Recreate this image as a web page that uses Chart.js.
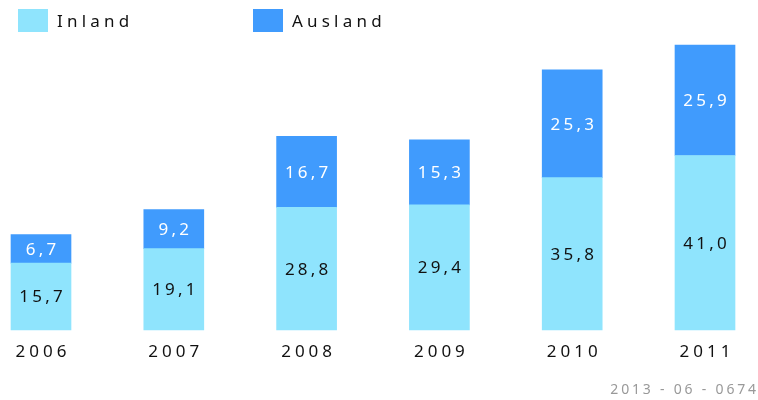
<!DOCTYPE html>
<html>
<head>
<meta charset="utf-8">
<script src="https://cdn.jsdelivr.net/npm/chart.js@4"></script>
<style>
  html, body { margin: 0; padding: 0; background: #fff; }
  #wrap { width: 758px; height: 400px; position: relative; }
</style>
</head>
<body>
<div id="wrap"><canvas id="chart" width="758" height="400"></canvas></div>
<script>
const years = ["2006", "2007", "2008", "2009", "2010", "2011"];
const inland = [15.7, 19.1, 28.8, 29.4, 35.8, 41.0];
const ausland = [6.7, 9.2, 16.7, 15.3, 25.3, 25.9];
const seriesNames = ["Inland", "Ausland"];
const footerText = "2013 - 06 - 0674";

const FONT = "'Noto Sans', 'DejaVu Sans', sans-serif";

function fmt(v) {
  return v.toFixed(1).replace(".", ",");
}

// draws text with letter spacing, centred or left aligned
function spacedText(ctx, text, x, y, spacing, align) {
  ctx.save();
  ctx.letterSpacing = spacing + "px";
  ctx.textAlign = "left";
  const w = ctx.measureText(text).width - spacing;
  let sx = x;
  if (align === "center") sx = x - w / 2;
  if (align === "right") sx = x - w;
  ctx.fillText(text, sx, y);
  ctx.restore();
}

const textPlugin = {
  id: "textPlugin",
  afterDatasetsDraw(chart) {
    const ctx = chart.ctx;
    const xs = chart.scales.x;
    ctx.save();
    ctx.textBaseline = "middle";

    // value labels inside the bars
    chart.data.datasets.forEach((ds, di) => {
      const meta = chart.getDatasetMeta(di);
      meta.data.forEach((bar, i) => {
        const top = bar.y, bottom = bar.base;
        ctx.font = "17px " + FONT;
        ctx.fillStyle = di === 0 ? "#111111" : "#ffffff";
        spacedText(ctx, fmt(ds.data[i]), bar.x, (top + bottom) / 2 + 1, 3.2, "center");
      });
    });

    // category labels
    ctx.font = "17px " + FONT;
    ctx.fillStyle = "#111111";
    years.forEach((y, i) => {
      spacedText(ctx, y, xs.getPixelForValue(i), 352, 4, "center");
    });

    // legend
    const legendX = [18, 253];
    chart.data.datasets.forEach((ds, di) => {
      ctx.fillStyle = ds.backgroundColor;
      ctx.fillRect(legendX[di], 9, 30, 23);
      ctx.fillStyle = "#111111";
      ctx.font = "17px " + FONT;
      spacedText(ctx, ds.label, legendX[di] + 39, 22, 4.2, "left");
    });

    // footer code
    ctx.font = "14px " + FONT;
    ctx.fillStyle = "#999999";
    spacedText(ctx, footerText, 756, 390, 2.8, "right");
    ctx.restore();
  }
};

new Chart(document.getElementById("chart"), {
  type: "bar",
  data: {
    labels: years,
    datasets: [
      {
        label: seriesNames[0],
        data: inland,
        backgroundColor: "#8fe4fd",
        barThickness: 60,
        clip: false,
      },
      {
        label: seriesNames[1],
        data: ausland,
        backgroundColor: "#409bfd",
        barThickness: 60,
        clip: false,
      },
    ],
  },
  options: {
    responsive: false,
    animation: false,
    layout: {
      padding: { left: 41, right: 53, top: 32, bottom: 70 },
    },
    plugins: {
      legend: { display: false },
      tooltip: { enabled: false },
    },
    scales: {
      x: {
        display: false,
        stacked: true,
        offset: false,
      },
      y: {
        display: false,
        stacked: true,
        min: 0,
        max: 70,
      },
    },
  },
  plugins: [textPlugin],
});
</script>
</body>
</html>
